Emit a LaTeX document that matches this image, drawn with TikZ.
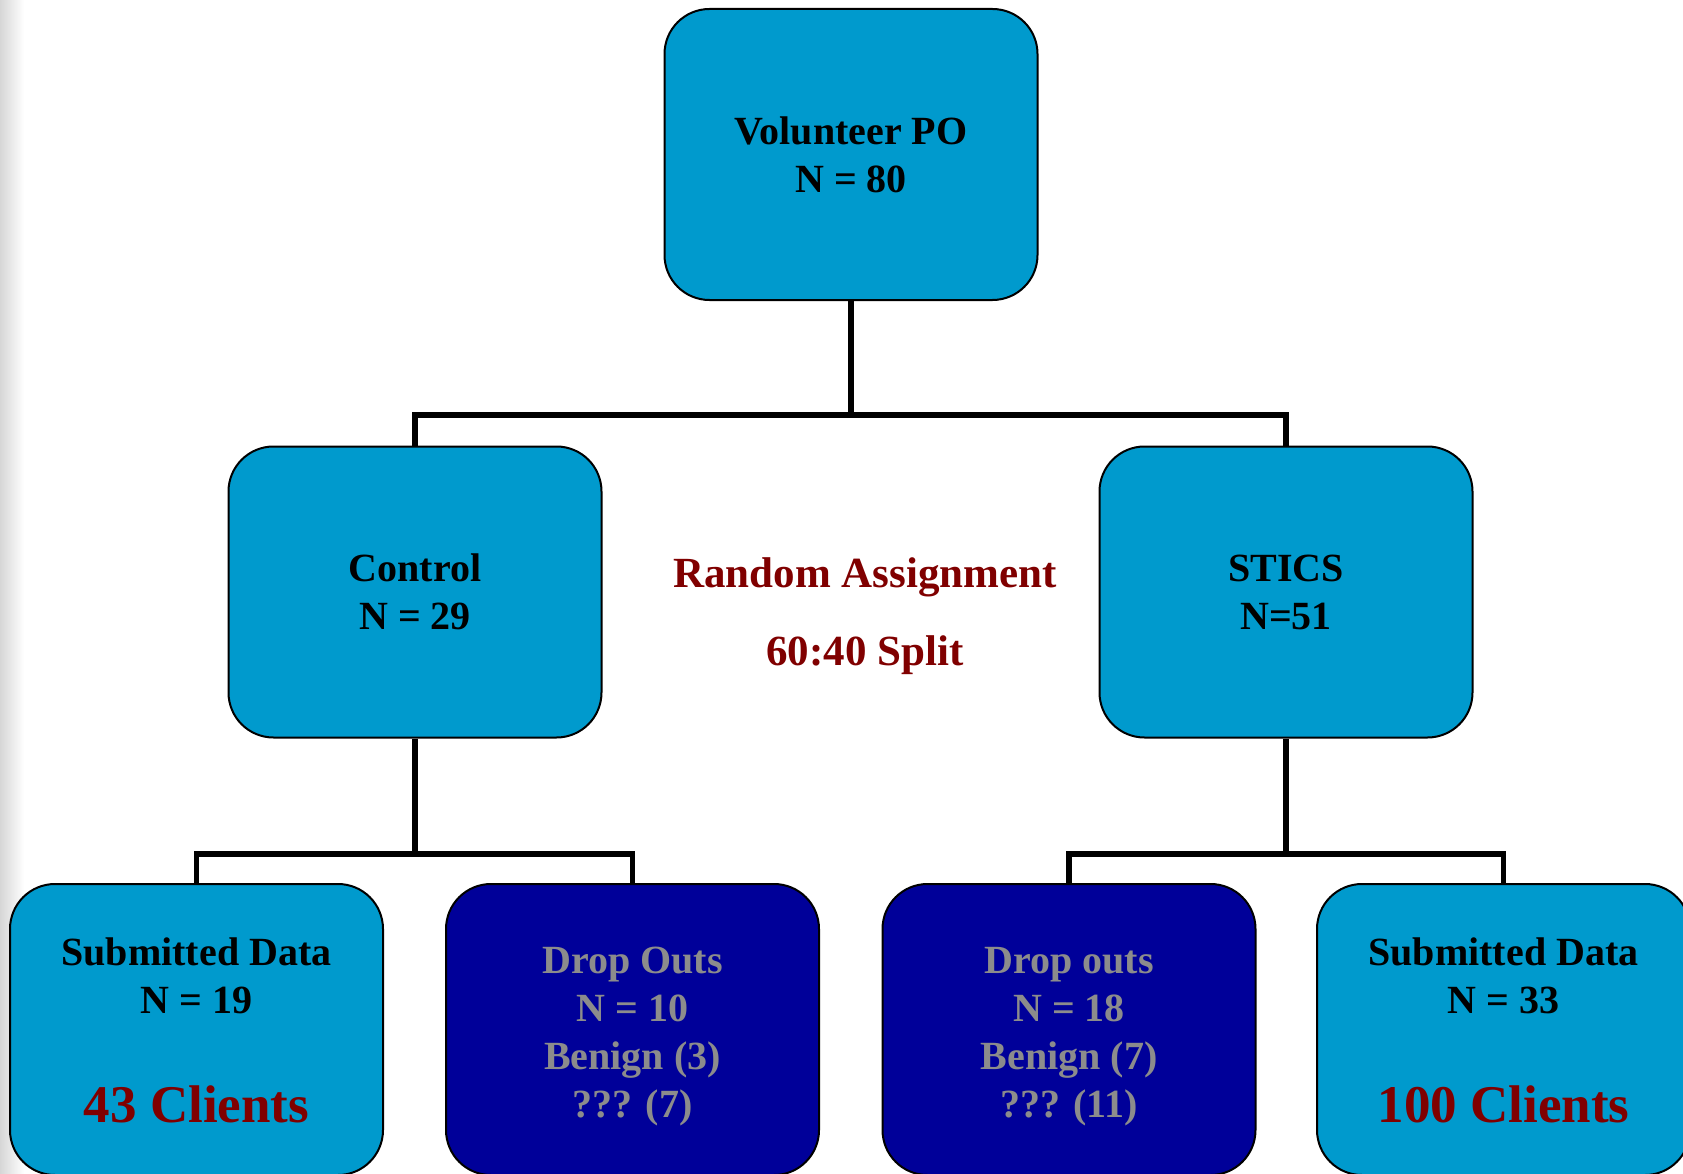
\documentclass[tikz,border=0pt]{standalone}
\usepackage{fontspec}
\setmainfont{Liberation Serif}
\definecolor{boxblue}{RGB}{0,154,205}
\definecolor{deepblue}{RGB}{0,0,153}
\definecolor{maroonred}{RGB}{128,0,0}
\definecolor{dimtext}{RGB}{140,140,140}
\begin{document}
\begin{tikzpicture}[x=1pt,y=-1pt,
  box/.style={draw=black, line width=2pt, rounded corners=45pt,
    minimum width=373pt, minimum height=291pt, inner sep=0pt, align=center,
    font=\fontsize{40}{48}\selectfont\bfseries},
  lightbox/.style={box, fill=boxblue, text=black},
  darkbox/.style={box, fill=deepblue},
  link/.style={line width=5.5pt, draw=black},
  label/.style={inner sep=0pt, anchor=base, font=\fontsize{40}{48}\selectfont\bfseries},
  droptext/.style={inner sep=0pt, align=center, text=dimtext,
    font=\fontsize{40}{48}\selectfont\bfseries},
  caption/.style={inner sep=0pt, anchor=base, text=maroonred,
    font=\fontsize{43}{50}\selectfont\bfseries},
  bignote/.style={inner sep=0pt, anchor=base, text=maroonred,
    font=\fontsize{53}{60}\selectfont\bfseries}]
\clip (0,0) rectangle (1683,1174);
\fill[white] (0,0) rectangle (1683,1174);
\shade[left color=black!16, right color=white] (0,0) rectangle (24,1174);

% boxes
\node[lightbox] (top)   at (851,154.5) {Volunteer PO\\N = 80};
\node[lightbox] (ctl)   at (415,592)   {\raisebox{-2pt}{Control}\\\raisebox{-2pt}{N = 29}};
\node[lightbox] (stics) at (1286,592)  {\raisebox{-2pt}{STICS}\\\raisebox{-2pt}{N=51}};
\node[lightbox] (sub1)  at (196.5,1029.5) {};
\node[darkbox]  (drop1) at (632.5,1029.5) {};
\node[darkbox]  (drop2) at (1069,1029.5)  {};
\node[lightbox] (sub2)  at (1503.5,1029.5) {};

% texts of the bottom boxes
\node[droptext] (drop1t) at (632.5,1037) {Drop Outs\\N = 10\\Benign (3)\\??? (7)};
\node[droptext] (drop2t) at (1069,1037)  {Drop outs\\N = 18\\Benign (7)\\??? (11)};
\node[label] (sub1a) at (196.5,965)  {Submitted Data};
\node[label] (sub1b) at (196.5,1013) {N = 19};
\node[bignote] (sub1c) at (196.5,1122) {43 Clients};
\node[label] (sub2a) at (1503.5,965)  {Submitted Data};
\node[label] (sub2b) at (1503.5,1013) {N = 33};
\node[bignote] (sub2c) at (1503.5,1122) {100 Clients};

% middle caption
\node[caption] (rand)  at (865,587) {Random Assignment};
\node[caption] (split) at (865,665) {60:40 Split};

% tree connectors
\coordinate (j1) at (851,415);
\coordinate (j2) at (415,854);
\coordinate (j3) at (1286,854);
\draw[link] (top.south) -- (j1);
\draw[link] (ctl.north) |- (j1) -| (stics.north);
\draw[link] (ctl.south) -- (j2);
\draw[link] (sub1.north) |- (j2) -| (drop1.north);
\draw[link] (stics.south) -- (j3);
\draw[link] (drop2.north) |- (j3) -| (sub2.north);
\end{tikzpicture}
\end{document}
